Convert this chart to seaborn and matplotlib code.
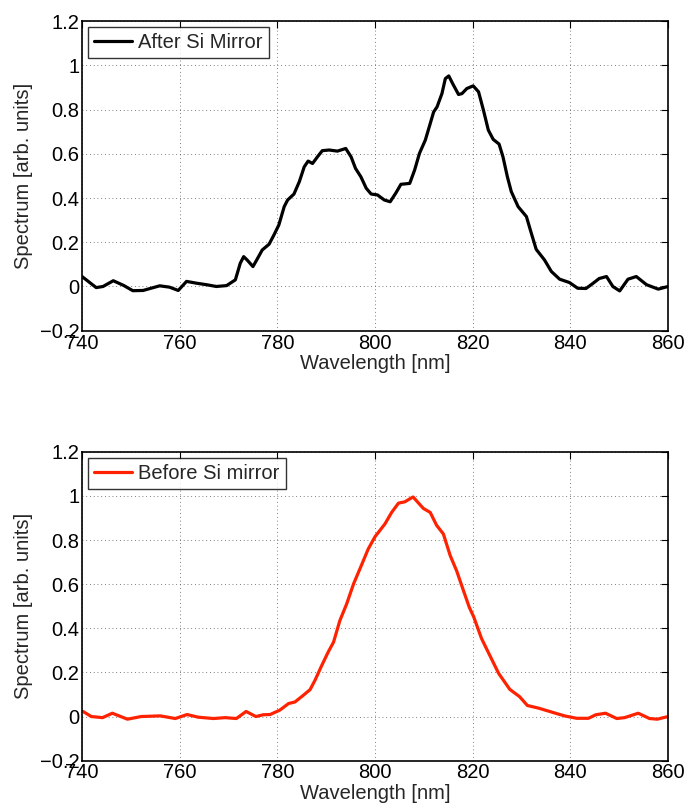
import pandas as pd
import seaborn as sns
import matplotlib.pyplot as plt

# Data (wavelength in nm, spectrum in arb. units)
wl_after = [740.0, 742.9, 744.3, 746.4, 748.5, 750.4, 752.5, 755.9, 757.9, 759.7,
            761.4, 763.4, 765.5, 767.5, 769.6, 771.4, 772.4, 773.1, 773.8, 775.0,
            775.9, 776.9, 778.3, 779.3, 780.3, 781.4, 782.1, 783.4, 784.5, 785.5,
            786.3, 787.2, 788.2, 789.2, 790.6, 792.3, 794.0, 795.1, 796.0, 797.1,
            798.2, 799.2, 800.5, 801.9, 803.1, 804.3, 805.3, 807.1, 808.1, 809.1,
            810.3, 811.2, 812.0, 812.7, 813.7, 814.4, 815.1, 815.9, 817.1, 817.8,
            818.8, 820.1, 821.2, 822.2, 823.2, 824.2, 825.4, 826.2, 827.1, 827.9,
            829.3, 831.0, 832.0, 833.0, 834.7, 836.1, 837.8, 839.8, 841.5, 843.2,
            844.5, 845.9, 847.4, 848.7, 850.1, 851.8, 853.5, 855.6, 858.0, 860.0]
sp_after = [0.045, -0.005, 0.0, 0.026, 0.005, -0.019, -0.018, 0.003, -0.003, -0.018,
            0.023, 0.015, 0.008, 0.0, 0.004, 0.03, 0.105, 0.135, 0.12, 0.09,
            0.125, 0.165, 0.191, 0.233, 0.278, 0.361, 0.391, 0.418, 0.474, 0.541,
            0.567, 0.556, 0.586, 0.614, 0.617, 0.612, 0.624, 0.586, 0.534, 0.496,
            0.444, 0.418, 0.414, 0.391, 0.383, 0.424, 0.462, 0.466, 0.526, 0.602,
            0.662, 0.729, 0.789, 0.812, 0.872, 0.94, 0.952, 0.917, 0.868, 0.872,
            0.895, 0.907, 0.88, 0.797, 0.707, 0.665, 0.644, 0.586, 0.496, 0.429,
            0.361, 0.316, 0.241, 0.168, 0.12, 0.068, 0.033, 0.018, -0.008, -0.009,
            0.012, 0.036, 0.045, 0.0, -0.02, 0.033, 0.045, 0.008, -0.012, 0.0]

wl_before = [740.2, 741.9, 744.2, 746.2, 749.3, 752.1, 756.0, 759.1, 761.5, 763.8,
             766.9, 769.3, 771.6, 773.6, 775.6, 777.1, 778.5, 780.5, 782.3, 783.6,
             785.3, 786.7, 787.7, 789.1, 790.4, 791.5, 792.8, 794.2, 795.6, 796.9,
             798.6, 800.0, 802.0, 803.4, 804.8, 806.1, 807.0, 807.8, 808.8, 809.9,
             811.3, 812.6, 814.0, 815.4, 816.7, 818.1, 819.3, 820.2, 821.8, 823.3,
             825.3, 827.6, 829.6, 831.2, 833.5, 837.4, 839.0, 841.3, 843.7, 845.2,
             847.2, 849.5, 851.1, 853.9, 856.2, 857.8, 860.0]
sp_before = [0.023, 0.0, -0.005, 0.015, -0.012, 0.0, 0.003, -0.009, 0.009, -0.003,
             -0.009, -0.005, -0.009, 0.023, 0.0, 0.008, 0.009, 0.029, 0.059, 0.066,
             0.096, 0.122, 0.164, 0.232, 0.292, 0.337, 0.435, 0.511, 0.601, 0.669,
             0.759, 0.815, 0.872, 0.925, 0.967, 0.973, 0.985, 0.995, 0.97, 0.943,
             0.925, 0.867, 0.827, 0.729, 0.661, 0.571, 0.495, 0.452, 0.354, 0.286,
             0.196, 0.123, 0.09, 0.05, 0.038, 0.012, 0.002, -0.008, -0.008, 0.008,
             0.015, -0.009, -0.005, 0.015, -0.009, -0.012, 0.0]

x_ticks = [740, 760, 780, 800, 820, 840, 860]
y_ticks = [-0.2, 0, 0.2, 0.4, 0.6, 0.8, 1, 1.2]
y_labels = ['\u22120.2', '0', '0.2', '0.4', '0.6', '0.8', '1', '1.2']

df_after = pd.DataFrame({'wl': wl_after, 'sp': sp_after})
df_before = pd.DataFrame({'wl': wl_before, 'sp': sp_before})

sns.set_style('white')
plt.rcParams['font.family'] = ['Liberation Sans', 'DejaVu Sans']

FS = 14.5

fig = plt.figure(figsize=(6.87, 8.1), dpi=100)
ax1 = fig.add_axes([0.1194, 0.5917, 0.853, 0.3823])
ax2 = fig.add_axes([0.1194, 0.0609, 0.853, 0.3814])

panels = [(ax1, df_after, 'black', 'After Si Mirror'),
          (ax2, df_before, '#ff2200', 'Before Si mirror')]

for ax, df, col, lab in panels:
    sns.lineplot(x='wl', y='sp', data=df, ax=ax, color=col, linewidth=2.3,
                 label=lab)
    ax.set_xlim(740, 860)
    ax.set_ylim(-0.2, 1.2)
    ax.set_xticks(x_ticks)
    ax.set_yticks(y_ticks)
    ax.set_yticklabels(y_labels)
    ax.grid(True, color='#555555', linestyle=(0, (1, 3.5)), linewidth=0.6)
    ax.tick_params(direction='in', length=5, width=0.8, labelsize=FS,
                   top=True, right=True, pad=2, colors='black')
    for s in ax.spines.values():
        s.set_color('black')
        s.set_linewidth(1.2)
    ax.set_xlabel('Wavelength [nm]', fontsize=FS, labelpad=1)
    ax.set_ylabel('Spectrum [arb. units]', fontsize=FS, labelpad=5)
    leg = ax.legend(loc='upper left', fontsize=FS, frameon=True, fancybox=False,
                    handlelength=1.9, borderpad=0.3, borderaxespad=0.3,
                    handletextpad=0.3)
    leg.get_frame().set_edgecolor('black')
    leg.get_frame().set_linewidth(1.0)

fig.savefig('out.png', dpi=100, facecolor='white')
